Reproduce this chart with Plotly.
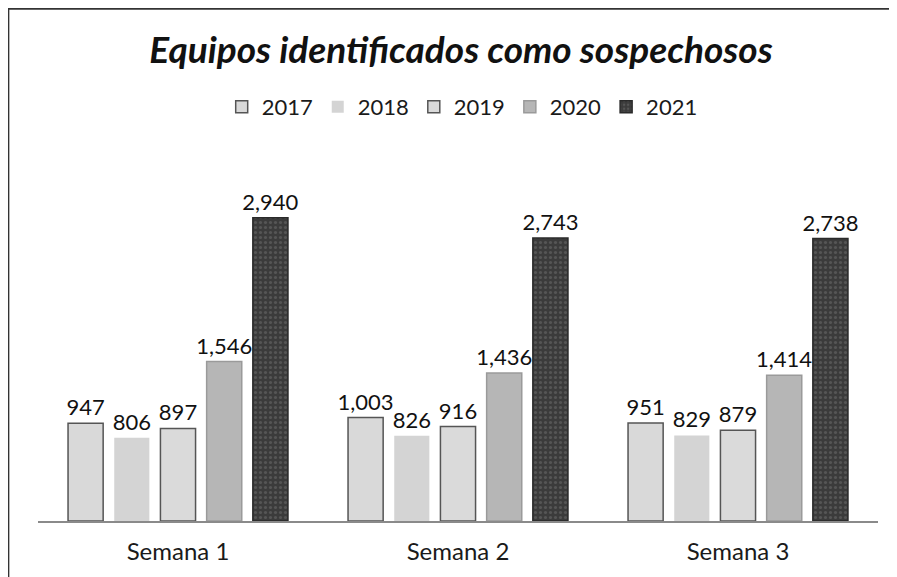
import plotly.graph_objects as go

categories = ["Semana 1", "Semana 2", "Semana 3"]
years = ["2017", "2018", "2019", "2020", "2021"]
v2017 = [947, 1003, 951]
v2018 = [806, 826, 829]
v2019 = [897, 916, 879]
v2020 = [1546, 1436, 1414]
v2021 = [2940, 2743, 2738]
series = [v2017, v2018, v2019, v2020, v2021]

fills = ["#d9d9d9", "#d4d4d4", "#dadada", "#b6b6b6", "#3b3b3b"]
lines = ["#555555", "rgba(0,0,0,0)", "#555555", "#9a9a9a", "#2a2a2a"]
patterns = ["", "", "", "", "."]

FONT = "Lato, Open Sans, sans-serif"

fig = go.Figure()
for name, vals, fc, lc, pat in zip(years, series, fills, lines, patterns):
    fig.add_trace(go.Bar(
        name=name, x=categories, y=vals,
        marker=dict(color=fc, line=dict(color=lc, width=1.5),
                    pattern=dict(shape=pat, fgcolor="#707070", size=5, solidity=0.3)),
        texttemplate="%{y:,}", textposition="outside",
        textfont=dict(family=FONT, size=22, color="#111111"),
        constraintext="none", cliponaxis=False,
    ))

fig.update_layout(
    width=897, height=577,
    paper_bgcolor="white", plot_bgcolor="white",
    margin=dict(l=30, r=27, t=152, b=64),
    barmode="group", bargap=0.175, bargroupgap=0.24,
    title=dict(text="<b><i>Equipos identificados como sospechosos</i></b>",
               x=0.505, xanchor="center", y=0.927, yanchor="middle",
               font=dict(family=FONT, size=37, color="#111111")),
    legend=dict(orientation="h", x=0.505, xanchor="center", y=1.147, yanchor="middle",
                font=dict(family=FONT, size=22, color="#1a1a1a"),
                itemwidth=30, traceorder="normal"),
    font=dict(family=FONT),
    showlegend=True,
)
fig.update_xaxes(showline=True, linecolor="#8a8a8a", linewidth=2, ticks="",
                 ticklabelstandoff=8,
                 tickfont=dict(family=FONT, size=24, color="#1a1a1a"))
fig.update_yaxes(range=[0, 3500], visible=False, showgrid=False)

# frame lines (top and left border of the scanned chart)
fig.add_shape(type="line", xref="paper", yref="paper", x0=-0.036, x1=1.04, y0=1.419, y1=1.419,
              line=dict(color="#333333", width=2))
fig.add_shape(type="line", xref="paper", yref="paper", x0=-0.035, x1=-0.035, y0=-0.2, y1=1.42,
              line=dict(color="#333333", width=1.5))

fig.write_html("out.html")
